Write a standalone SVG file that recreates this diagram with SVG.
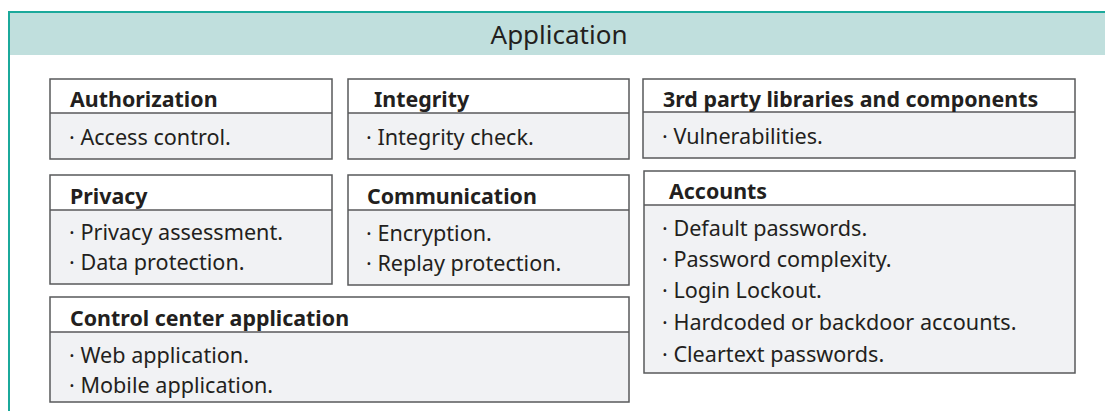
<svg xmlns="http://www.w3.org/2000/svg" width="1105" height="411" viewBox="0 0 1105 411">
<style>
.frame{fill:#ffffff;stroke:#1ba99b;stroke-width:2}
.band{fill:#c0dfdd}
.hd{fill:#ffffff;stroke:none}
.bd{fill:#f1f2f4;stroke:none}
.bx{fill:none;stroke:#58595b;stroke-width:1.5}
.div{stroke:#58595b;stroke-width:1.5}
.t{font-family:"Noto Sans","Open Sans",sans-serif;font-size:21.4px;font-weight:bold;fill:#231f20}
.b{font-family:"Noto Sans","Open Sans",sans-serif;font-size:21.6px;fill:#231f20}
.h{font-family:"Noto Sans","Open Sans",sans-serif;font-size:26px;fill:#231f20}
</style>
<g id="frame">
<rect class="frame" x="9" y="12" width="1110" height="420"/>
<rect class="band" x="10" y="13" width="1100" height="42"/>
<text class="h" x="559" y="44" text-anchor="middle">Application</text>
</g>
<g id="authorization">
<rect class="hd" x="50" y="79" width="282" height="34"/>
<rect class="bd" x="50" y="113" width="282" height="46"/>
<rect class="bx" x="50" y="79" width="282" height="80"/>
<line class="div" x1="50" y1="113" x2="332" y2="113"/>
<text class="t" x="70" y="107">Authorization</text>
<text class="b" x="69" y="145">· Access control.</text>
</g>
<g id="integrity">
<rect class="hd" x="348" y="79" width="281" height="34"/>
<rect class="bd" x="348" y="113" width="281" height="46"/>
<rect class="bx" x="348" y="79" width="281" height="80"/>
<line class="div" x1="348" y1="113" x2="629" y2="113"/>
<text class="t" x="374" y="107">Integrity</text>
<text class="b" x="366" y="145">· Integrity check.</text>
</g>
<g id="thirdparty">
<rect class="hd" x="643" y="79" width="432" height="33"/>
<rect class="bd" x="643" y="112" width="432" height="46"/>
<rect class="bx" x="643" y="79" width="432" height="79"/>
<line class="div" x1="643" y1="112" x2="1075" y2="112"/>
<text class="t" x="663" y="106.5">3rd party libraries and components</text>
<text class="b" x="662" y="144">· Vulnerabilities.</text>
</g>
<g id="privacy">
<rect class="hd" x="50" y="175" width="282" height="35"/>
<rect class="bd" x="50" y="210" width="282" height="74"/>
<rect class="bx" x="50" y="175" width="282" height="109"/>
<line class="div" x1="50" y1="210" x2="332" y2="210"/>
<text class="t" x="70" y="204">Privacy</text>
<text class="b" x="69" y="240">· Privacy assessment.</text>
<text class="b" x="69" y="270">· Data protection.</text>
</g>
<g id="communication">
<rect class="hd" x="348" y="175" width="281" height="35"/>
<rect class="bd" x="348" y="210" width="281" height="75"/>
<rect class="bx" x="348" y="175" width="281" height="110"/>
<line class="div" x1="348" y1="210" x2="629" y2="210"/>
<text class="t" x="367" y="204">Communication</text>
<text class="b" x="366" y="241">· Encryption.</text>
<text class="b" x="366" y="271">· Replay protection.</text>
</g>
<g id="controlcenter">
<rect class="hd" x="50" y="297" width="579" height="35"/>
<rect class="bd" x="50" y="332" width="579" height="70"/>
<rect class="bx" x="50" y="297" width="579" height="105"/>
<line class="div" x1="50" y1="332" x2="629" y2="332"/>
<text class="t" x="70" y="326">Control center application</text>
<text class="b" x="69" y="363">· Web application.</text>
<text class="b" x="69" y="393">· Mobile application.</text>
</g>
<g id="accounts">
<rect class="hd" x="644" y="171" width="431" height="34"/>
<rect class="bd" x="644" y="205" width="431" height="168"/>
<rect class="bx" x="644" y="171" width="431" height="202"/>
<line class="div" x1="644" y1="205" x2="1075" y2="205"/>
<text class="t" x="669" y="199">Accounts</text>
<text class="b" x="662" y="236">· Default passwords.</text>
<text class="b" x="662" y="267">· Password complexity.</text>
<text class="b" x="662" y="298">· Login Lockout.</text>
<text class="b" x="662" y="330">· Hardcoded or backdoor accounts.</text>
<text class="b" x="662" y="362">· Cleartext passwords.</text>
</g>
<g id="connectors"/>
</svg>
